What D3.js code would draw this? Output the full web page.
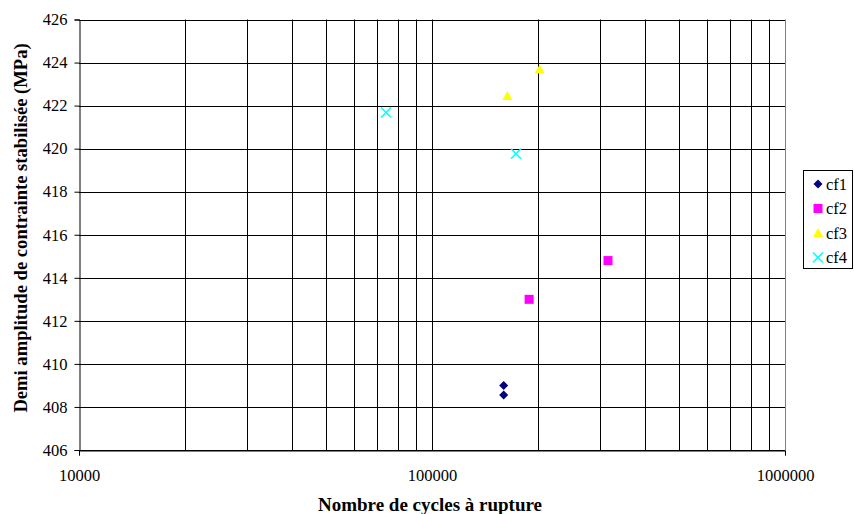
<!DOCTYPE html>
<html><head><meta charset="utf-8">
<script src="https://cdn.jsdelivr.net/npm/d3@7"></script>
<style>body{margin:0;background:#fff}svg{display:block}</style>
</head><body>
<svg id="c" width="854" height="514"></svg>
<script>
const seriesNames = ["cf1","cf2","cf3","cf4"];
const seriesColors = ["#000080","#ff00ff","#ffff00","#00ffff"];
const cf1 = [[159600,409.0],[159600,408.55]];
const cf2 = [[188400,413.0],[315200,414.8]];
const cf3 = [[163500,422.45],[201800,423.68]];
const cf4 = [[74100,421.68],[173000,419.76]];
const xTicks = [10000,100000,1000000];
const yTicks = [406,408,410,412,414,416,418,420,422,424,426];

const FONT='"Liberation Serif"';
const svg = d3.select("#c");
const L=79,R=785,T=19.5,B=450;
const x = d3.scaleLog().domain([10000,1000000]).range([L,R]);
const y = d3.scaleLinear().domain([406,426]).range([B,T]);

const vgrid=[];
for(let e=4;e<6;e++){for(let m=1;m<10;m++){vgrid.push(m*Math.pow(10,e));}}
svg.append("g").selectAll("line").data(vgrid.filter(v=>v>10000)).join("line")
 .attr("x1",d=>Math.round(x(d))+0.5).attr("x2",d=>Math.round(x(d))+0.5)
 .attr("y1",T).attr("y2",B).attr("stroke","#000").attr("stroke-width",1);
svg.append("g").selectAll("line").data(yTicks).join("line")
 .attr("x1",L).attr("x2",R).attr("y1",d=>Math.round(y(d))+0.5).attr("y2",d=>Math.round(y(d))+0.5)
 .attr("stroke","#000").attr("stroke-width",1);
svg.append("line").attr("x1",R+0.5).attr("x2",R+0.5).attr("y1",T).attr("y2",B).attr("stroke","#808080");

const yAxis = d3.axisLeft(y).tickValues(yTicks).tickSize(5).tickPadding(7).tickFormat(d3.format("d"));
const gy = svg.append("g").attr("transform",`translate(${L+0.5},0)`).call(yAxis);
const xAxis = d3.axisBottom(x).tickValues(xTicks).tickSize(5).tickPadding(14).tickFormat(d3.format("d"));
const gx = svg.append("g").attr("transform",`translate(0,${B+0.5})`).call(xAxis);
[gy,gx].forEach(g=>{g.select(".domain").attr("stroke","#000");g.selectAll(".tick line").attr("stroke","#000");
 g.selectAll("text").style("font-size","16.5px").style("font-family",FONT).attr("fill","#000");});
gx.selectAll(".tick").filter(d=>d===100000).select("line").remove();

svg.append("text").attr("x",430).attr("y",511).attr("text-anchor","middle")
 .style("font-family",FONT).style("font-size","19px").style("font-weight","bold").text("Nombre de cycles à rupture");
svg.append("text").attr("transform",`translate(27,228) rotate(-90)`).attr("text-anchor","middle")
 .style("font-family",FONT).style("font-size","18.6px").style("font-weight","bold").text("Demi amplitude de contrainte stabilisée (MPa)");

function marker(g,i,cx,cy){
  const c=seriesColors[i];
  if(i===0) g.append("path").attr("d",`M${cx},${cy-4.5}L${cx+4.5},${cy}L${cx},${cy+4.5}L${cx-4.5},${cy}Z`).attr("fill",c);
  else if(i===1) g.append("rect").attr("x",cx-4.5).attr("y",cy-4.5).attr("width",9).attr("height",9).attr("fill",c);
  else if(i===2) g.append("path").attr("d",`M${cx},${cy-5}L${cx+5},${cy+4}L${cx-5},${cy+4}Z`).attr("fill",c);
  else g.append("path").attr("d",`M${cx-5},${cy-5}L${cx+5},${cy+5}M${cx+5},${cy-5}L${cx-5},${cy+5}`).attr("stroke",c).attr("stroke-width",1.5).attr("fill","none");
}
const all=[cf1,cf2,cf3,cf4];
const mg=svg.append("g");
all.forEach((s,i)=>s.forEach(p=>marker(mg,i,x(p[0]),y(p[1]))));

const lg=svg.append("g");
lg.append("rect").attr("x",803.5).attr("y",170.5).attr("width",49).attr("height",98).attr("fill","#fff").attr("stroke","#000");
seriesNames.forEach((n,i)=>{
  const cy=184+i*24.5;
  marker(lg,i,818,cy);
  lg.append("text").attr("x",826).attr("y",cy+5.5).style("font-family",FONT).style("font-size","16.5px").text(n);
});
</script>
</body></html>
